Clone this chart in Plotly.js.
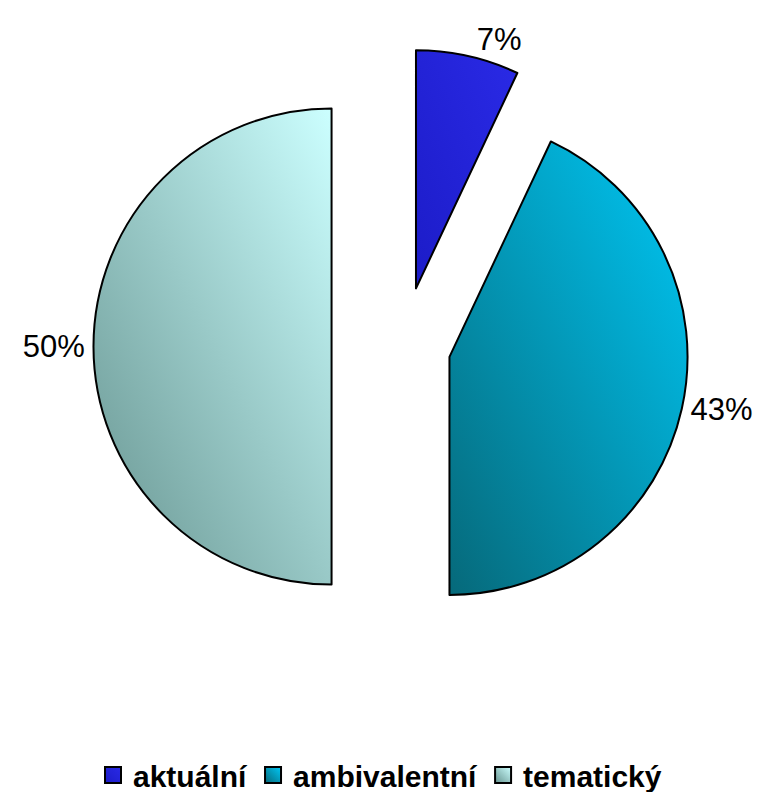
<!DOCTYPE html>
<html>
<head>
<meta charset="utf-8">
<script src="https://cdn.plot.ly/plotly-3.0.1.min.js"></script>
<style>html,body{margin:0;padding:0;background:#fff;}#chart{width:760px;height:792px;}</style>
</head>
<body>
<div id="chart"></div>
<script>
const categories = ["aktuální", "ambivalentní", "tematický"];
const values = [7, 43, 50];
const sliceColors = ["#2424d8", "#0899b8", "#a6d4d4"];
const gradients = [
  ["#1c1cc8", "#2a2ae6"],
  ["#06697a", "#00c8f6"],
  ["#66938f", "#ccffff"]
];
const pulls = [0.25, 0.20, 0.30];

const trace = {
  type: "pie",
  labels: categories,
  values: values,
  sort: false,
  direction: "clockwise",
  rotation: 0,
  pull: pulls,
  textinfo: "percent",
  textposition: "outside",
  texttemplate: "%{percent:.0%}",
  textfont: {family: "Arial, 'Liberation Sans', sans-serif", size: 31, color: "#000"},
  marker: {colors: sliceColors, line: {color: "#000", width: 2}},
  domain: {x: [0.1230, 0.9375], y: [0.1717, 0.9533]},
  hoverinfo: "none"
};

const layout = {
  width: 760, height: 792,
  margin: {l: 0, r: 0, t: 0, b: 0, autoexpand: false},
  paper_bgcolor: "#fff",
  showlegend: true,
  legend: {
    orientation: "h",
    x: 0.5, xanchor: "center", y: 0.0215, yanchor: "middle",
    font: {family: "Arial, 'Liberation Sans', sans-serif", size: 30, color: "#000", weight: "bold"},
    itemclick: false, itemdoubleclick: false
  }
};

Plotly.newPlot("chart", [trace], layout, {staticPlot: true}).then(function (gd) {
  const svg = gd.querySelector("svg.main-svg");
  const ns = "http://www.w3.org/2000/svg";
  let defs = svg.querySelector("defs");
  if (!defs) { defs = document.createElementNS(ns, "defs"); svg.insertBefore(defs, svg.firstChild); }
  gradients.forEach(function (g, i) {
    const lg = document.createElementNS(ns, "linearGradient");
    lg.setAttribute("id", "sliceGrad" + i);
    lg.setAttribute("x1", "0"); lg.setAttribute("y1", "1");
    lg.setAttribute("x2", "1"); lg.setAttribute("y2", "0");
    [[0, g[0]], [1, g[1]]].forEach(function (s) {
      const st = document.createElementNS(ns, "stop");
      st.setAttribute("offset", s[0]);
      st.setAttribute("stop-color", s[1]);
      lg.appendChild(st);
    });
    defs.appendChild(lg);
  });
  gd.querySelectorAll(".pielayer .slice path.surface").forEach(function (p, i) {
    p.style.fill = "url(#sliceGrad" + i + ")";
  });
  gd.querySelectorAll(".legend .traces").forEach(function (t, i) {
    const p = t.querySelector("path.legendpie");
    if (p) {
      p.setAttribute("d", "M8,8H-8V-8H8Z");
      p.style.fill = "url(#sliceGrad" + i + ")";
    }
  });
});
</script>
</body>
</html>
